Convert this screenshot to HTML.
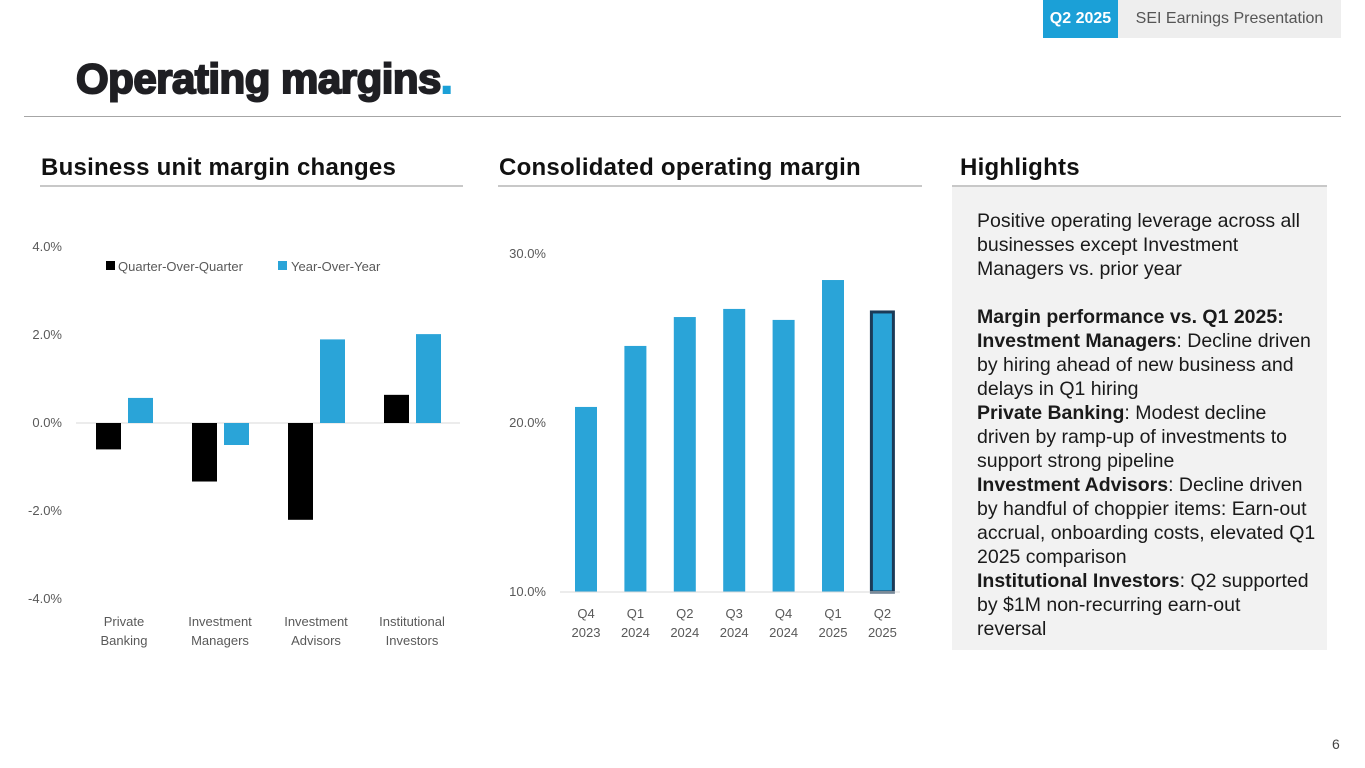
<!DOCTYPE html>
<html><head><meta charset="utf-8"><style>
body{margin:0;width:1365px;height:768px;background:#fff;position:relative;overflow:hidden;font-family:"Liberation Sans",sans-serif;}
.abs{position:absolute;}
.sec{position:absolute;top:154px;font-size:24px;font-weight:bold;color:#111;letter-spacing:0.25px}
.ul{position:absolute;top:185px;height:2px;background:#c8c8c8}
svg text{font-family:"Liberation Sans",sans-serif;fill:#595959;font-size:13px}
</style></head><body>
<div class="abs" style="left:1043px;top:0;width:75px;height:38px;background:#1ba0d7;color:#fff;font-weight:bold;font-size:16px;line-height:38px;text-align:center">Q2 2025</div>
<div class="abs" style="left:1118px;top:0;width:223px;height:38px;background:#eeeeee;color:#555;font-size:16px;line-height:38px;text-align:center">SEI Earnings Presentation</div>
<div class="abs" style="left:76px;top:55px;font-size:42px;font-weight:900;color:#1f1f23;letter-spacing:-0.5px;font-family:'Liberation Sans',sans-serif;-webkit-text-stroke:2px #1f1f23">Operating margins<span style="color:#1ba0d7;-webkit-text-stroke:2px #1ba0d7">.</span></div>
<div class="abs" style="left:24px;top:116px;width:1317px;height:1px;background:#a6a6a6"></div>

<div class="sec" style="left:41px">Business unit margin changes</div>
<div class="ul" style="left:40px;width:423px"></div>
<div class="sec" style="left:499px">Consolidated operating margin</div>
<div class="ul" style="left:498px;width:424px"></div>
<div class="sec" style="left:960px">Highlights</div>
<div class="ul" style="left:952px;width:375px"></div>

<div class="abs" style="left:952px;top:187px;width:375px;height:463px;background:#f2f2f2"></div>
<div class="abs" style="left:977px;top:209px;width:340px;font-size:19.5px;line-height:24px;color:#1a1a1a">
Positive operating leverage across all businesses except Investment Managers vs. prior year<br><br>
<b>Margin performance vs. Q1 2025:</b><br>
<b>Investment Managers</b>: Decline driven by hiring ahead of new business and delays in Q1 hiring<br>
<b>Private Banking</b>: Modest decline driven by ramp-up of investments to support strong pipeline<br>
<b>Investment Advisors</b>: Decline driven by handful of choppier items: Earn-out accrual, onboarding costs, elevated Q1 2025 comparison<br>
<b>Institutional Investors</b>: Q2 supported by $1M non-recurring earn-out<br>reversal
</div>
<div class="abs" style="left:1332px;top:736px;font-size:14px;color:#444">6</div>

<svg id="c1" class="abs" style="left:0;top:0" width="470" height="680"></svg>
<svg id="c2" class="abs" style="left:480px;top:0" width="460" height="680"></svg>

<script>
const buCategories=[["Private","Banking"],["Investment","Managers"],["Investment","Advisors"],["Institutional","Investors"]];
const qoqValues=[-0.6,-1.33,-2.2,0.64];
const yoyValues=[0.57,-0.5,1.9,2.02];
const buTicks=[4,2,0,-2,-4];
const cmCategories=[["Q4","2023"],["Q1","2024"],["Q2","2024"],["Q3","2024"],["Q4","2024"],["Q1","2025"],["Q2","2025"]];
const cmValues=[20.95,24.56,26.27,26.75,26.1,28.46,26.57];
const cmTicks=[30,20,10];
const NS="http://www.w3.org/2000/svg";
function mk(svg,tag,attrs,txt){const e=document.createElementNS(NS,tag);for(const k in attrs)e.setAttribute(k,attrs[k]);if(txt!==undefined)e.textContent=txt;svg.appendChild(e);return e;}
const s1=document.getElementById('c1');
const y1=v=>423-v*44;
const x1=i=>124+i*96;
buTicks.forEach(t=>{const e=mk(s1,'text',{x:62,y:y1(t)+4,'text-anchor':'end'},t.toFixed(1)+'%');

});
mk(s1,'line',{x1:76,x2:460,y1:y1(0),y2:y1(0),stroke:'#d9d9d9'});
qoqValues.forEach((v,i)=>{const r=mk(s1,'rect',{x:x1(i)-28,y:Math.min(y1(v),y1(0)),width:25,height:Math.abs(y1(v)-y1(0)),fill:'#000'});

});
yoyValues.forEach((v,i)=>{const r=mk(s1,'rect',{x:x1(i)+4,y:Math.min(y1(v),y1(0)),width:25,height:Math.abs(y1(v)-y1(0)),fill:'#2aa4d8'});

});
buCategories.forEach((c,i)=>{c.forEach((l,j)=>{const e=mk(s1,'text',{x:x1(i),y:626+j*19,'text-anchor':'middle'},l);

});});
mk(s1,'rect',{x:106,y:261,width:9,height:9,fill:'#000'});
let le=mk(s1,'text',{x:118,y:271},'Quarter-Over-Quarter');


mk(s1,'rect',{x:278,y:261,width:9,height:9,fill:'#2aa4d8'});
le=mk(s1,'text',{x:291,y:271},'Year-Over-Year');


const s2=document.getElementById('c2');
const y2=v=>592-(v-10)*16.9;
const x2=i=>106+i*49.4;
cmTicks.forEach(t=>{const e=mk(s2,'text',{x:66,y:y2(t)+4,'text-anchor':'end'},t.toFixed(1)+'%');

});
cmValues.forEach((v,i)=>{const last=i===cmValues.length-1;
const r=mk(s2,'rect',{x:x2(i)-11,y:y2(v),width:22,height:y2(10)-y2(v),fill:'#2aa4d8',stroke:last?'#1b3a57':'none','stroke-width':last?3:0});

});
mk(s2,'line',{x1:80,x2:420,y1:y2(10),y2:y2(10),stroke:'#d9d9d9'});
cmCategories.forEach((c,i)=>{c.forEach((l,j)=>{const e=mk(s2,'text',{x:x2(i),y:618+j*19,'text-anchor':'middle'},l);

});});
</script>
</body></html>
